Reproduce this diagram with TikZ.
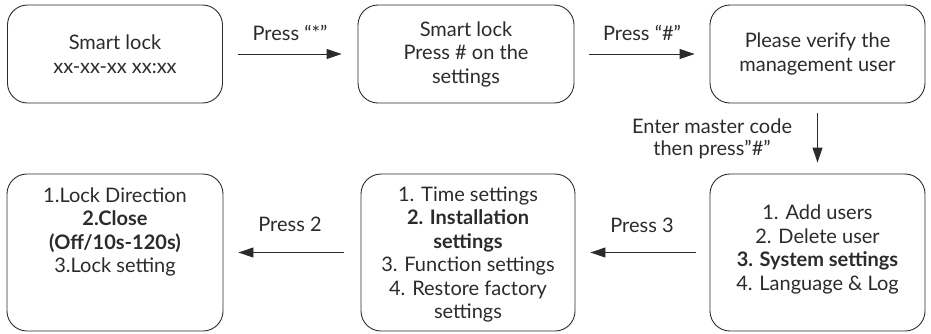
\documentclass[tikz,border=0pt]{standalone}
\usepackage{fontspec}
\setmainfont{Lato}
\usetikzlibrary{arrows.meta}
\definecolor{ink}{HTML}{2B2B2B}
\begin{document}
\begin{tikzpicture}[x=1pt,y=-1pt,
  box/.style={draw=ink,line width=0.9pt,rounded corners=20pt,inner sep=0pt},
  txt/.style={text=ink,font=\fontsize{20}{23.5}\selectfont,align=center,inner sep=0pt},
  arr/.style={draw=ink,line width=0.9pt,-{Triangle[length=15pt,width=10pt]}},
  lbl/.style={text=ink,font=\fontsize{20}{22}\selectfont,align=center,inner sep=0pt}]
\useasboundingbox (0,0) rectangle (931,333);
% top row
\node[box,minimum width=215pt,minimum height=98pt] (b1) at (115,54) {};
\node[box,minimum width=216pt,minimum height=98pt] (b2) at (466,54) {};
\node[box,minimum width=215pt,minimum height=98pt] (b3) at (817.5,54) {};
% bottom row
\node[box,minimum width=216pt,minimum height=157pt] (b4) at (115,252.5) {};
\node[box,minimum width=214pt,minimum height=157pt] (b5) at (468,252.5) {};
\node[box,minimum width=215pt,minimum height=157pt] (b6) at (817.5,252.5) {};
% texts
\node[txt] (t1) at (b1.center) {Smart lock\\xx-xx-xx xx:xx};
\node[txt] (t2) at (b2.center) {Smart lock\\Press \# on the\\settings};
\node[txt] (t3) at (b3.center) {Please verify the\\management user};
\node[txt,anchor=north] (t4) at ([yshift=-14pt]b4.north) {1.Lock Direction\\\textbf{2.Close}\\\textbf{(Off/10s-120s)}\\3.Lock setting};
\node[txt,anchor=north] (t5) at ([yshift=-13pt]b5.north) {1. Time settings\\\textbf{2. Installation}\\\textbf{settings}\\3. Function settings\\4. Restore factory\\settings};
\node[txt] (t6) at ([yshift=3pt]b6.center) {1. Add users\\2. Delete user\\\textbf{3. System settings}\\4. Language \& Log};
% arrows
\draw[arr,shorten <=15pt,shorten >=16pt] (b1.east) -- (b2.west);
\draw[arr,shorten <=15pt,shorten >=15pt] (b2.east) -- (b3.west);
\draw[arr,shorten <=10pt,shorten >=11pt] (b3.south) -- (b6.north);
\draw[arr,shorten <=17pt,shorten >=15pt] (b5.west) -- (b4.east);
\draw[arr,shorten <=14pt,shorten >=15pt] (b6.west) -- (b5.east);
% labels
\node[lbl] (l1) at (290,33) {Press “*”};
\node[lbl] (l2) at (642,33) {Press “\#”};
\node[lbl] (l3) at (712,139) {Enter master code\\then press"\#"};
\node[lbl] (l4) at (290,224) {Press 2};
\node[lbl] (l5) at (642,225) {Press 3};
\end{tikzpicture}
\end{document}
